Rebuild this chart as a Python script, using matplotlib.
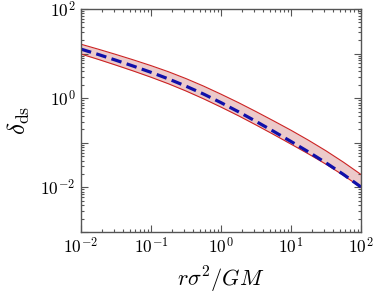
import numpy as np
import matplotlib
matplotlib.use('Agg')
import matplotlib.pyplot as plt
from matplotlib.ticker import LogLocator, NullFormatter

plt.rcParams['mathtext.fontset'] = 'cm'
plt.rcParams['font.family'] = 'serif'
plt.rcParams['font.serif'] = ['DejaVu Serif']

# values (log-log), quarter-decade steps
r = [0.01, 0.0178, 0.0316, 0.0562, 0.1, 0.178, 0.316, 0.562, 1.0,
     1.78, 3.16, 5.62, 10.0, 17.8, 31.6, 56.2, 100.0]
delta_mid = [12.59, 9.51, 7.08, 5.22, 3.80, 2.70, 1.86, 1.24, 0.794,
             0.495, 0.302, 0.181, 0.107, 0.0624, 0.0355, 0.0195, 0.0102]
delta_hi = [16.2, 12.5, 9.55, 7.21, 5.37, 3.91, 2.75, 1.87, 1.23,
            0.794, 0.501, 0.311, 0.191, 0.114, 0.0661, 0.0367, 0.0195]
delta_lo = [9.77, 7.38, 5.50, 4.06, 2.95, 2.10, 1.45, 0.970, 0.631,
            0.403, 0.251, 0.154, 0.0933, 0.0562, 0.0331, 0.0186, 0.0100]

xtick_vals = [1e-2, 1e-1, 1e0, 1e1, 1e2]
xtick_labels = [r'$10^{-2}$', r'$10^{-1}$', r'$10^{0}$', r'$10^{1}$', r'$10^{2}$']
ytick_vals = [1e-3, 1e-2, 1e-1, 1e0, 1e1, 1e2]
ytick_labels = ['', r'$10^{-2}$', '', r'$10^{0}$', '', r'$10^{2}$']

fig = plt.figure(figsize=(3.74, 2.99), dpi=100)
ax = fig.add_axes([0.2166, 0.224, 0.7487, 0.746])

ax.fill_between(r, delta_lo, delta_hi, color='#eccaca', lw=0)
ax.plot(r, delta_hi, color='#cc2222', lw=0.8)
ax.plot(r, delta_lo, color='#cc2222', lw=0.8)
ax.plot(r, delta_mid, color='#1010aa', lw=2.3, ls=(0, (3.3, 1.7)))

ax.set_xscale('log')
ax.set_yscale('log')
ax.set_xlim(1e-2, 1e2)
ax.set_ylim(1e-3, 1e2)

ax.set_xticks(xtick_vals, xtick_labels)
ax.set_yticks(ytick_vals, ytick_labels)
ax.xaxis.set_minor_locator(LogLocator(base=10, subs=np.arange(2, 10), numticks=20))
ax.yaxis.set_minor_locator(LogLocator(base=10, subs=np.arange(2, 10), numticks=20))
ax.xaxis.set_minor_formatter(NullFormatter())
ax.yaxis.set_minor_formatter(NullFormatter())

ax.tick_params(which='both', direction='in', top=True, right=True, colors='#555555',
               labelcolor='black', labelsize=12.5, width=0.8)
ax.tick_params(which='major', length=5, pad=4)
ax.tick_params(which='minor', length=2.5)
for s in ax.spines.values():
    s.set_color('#555555')
    s.set_linewidth(1.0)

ax.set_xlabel(r'$r\sigma^2/GM$', fontsize=16, labelpad=5)
ax.set_ylabel(r'$\delta_{\rm ds}$', fontsize=18, labelpad=6)

fig.savefig('out.png', dpi=100)
